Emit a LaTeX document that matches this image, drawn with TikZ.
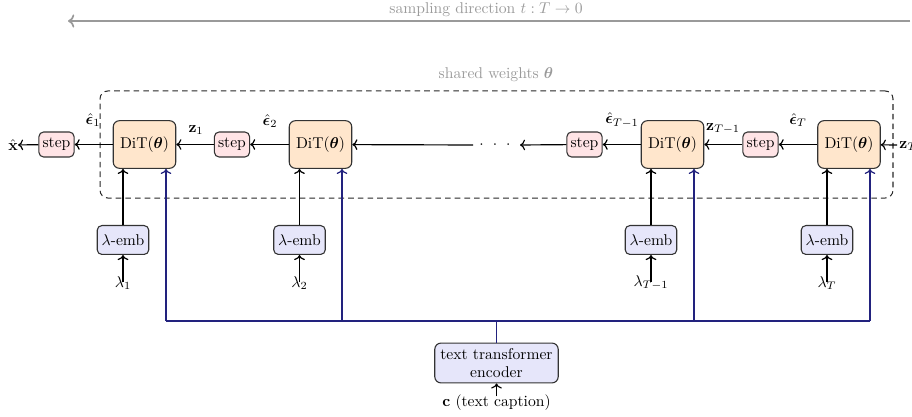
\documentclass[tikz,border=0pt]{standalone}
\usepackage{amsmath,bm}
\usetikzlibrary{arrows.meta}
\definecolor{ditfill}{HTML}{FFE6CC}
\definecolor{stepfill}{HTML}{FFE4E6}
\definecolor{embfill}{HTML}{E6E6FA}
\definecolor{navyline}{HTML}{22227E}
\definecolor{lightgray}{HTML}{9A9A9A}
\begin{document}
\begin{tikzpicture}[x=0.64pt,y=-0.64pt,
  base/.style={draw=black!80,line width=0.7pt,rounded corners=4pt,inner sep=2pt,align=center},
  ditbox/.style={base,fill=ditfill,minimum width=40pt,minimum height=30.5pt},
  stepbox/.style={base,fill=stepfill,minimum width=22.5pt,minimum height=16pt,rounded corners=3pt},
  embbox/.style={base,fill=embfill,minimum width=33pt,minimum height=18.5pt,rounded corners=3pt},
  encbox/.style={base,fill=embfill,minimum width=79pt,minimum height=25.5pt},
  arr/.style={->,line width=0.75pt,black},
  bluearr/.style={->,line width=0.75pt,navyline},
  lbl/.style={inner sep=0pt}]
\useasboundingbox (0,0) rectangle (912,417);
% top direction arrow
\node[lbl,text=lightgray] (dirlbl) at (486,9.5) {sampling direction $t:T\to 0$};
\coordinate (dirR) at (910,21);
\coordinate (dirL) at (68,21);
\draw[->,lightgray,line width=1.1pt] (dirR) -- (dirL);
% shared weights box
\node[draw=black!85,dash pattern=on 3.6pt off 2.6pt,line width=0.65pt,rounded corners=5pt,minimum width=507.5pt,minimum height=68.5pt] (shared) at (496.5,144.5) {};
\node[lbl,text=lightgray] (sharedlbl) at (496,75) {shared weights $\bm{\theta}$};
% main row
\node[ditbox] (dit1) at (144.5,144.5) {DiT($\bm{\theta}$)};
\node[ditbox] (dit2) at (320.5,144.5) {DiT($\bm{\theta}$)};
\node[ditbox] (dit3) at (672.5,144.5) {DiT($\bm{\theta}$)};
\node[ditbox] (dit4) at (849,144.5) {DiT($\bm{\theta}$)};
\node[stepbox] (step1) at (56.5,144.5) {step};
\node[stepbox] (step2) at (232,144.5) {step};
\node[stepbox] (step3) at (584.5,144.5) {step};
\node[stepbox] (step4) at (760.5,144.5) {step};
\node[lbl] (xhat) at (13,145) {$\hat{\mathbf{x}}$};
\node[lbl] (dots) at (495,145) {$\cdot\hspace{3.6pt}\cdot\hspace{3.6pt}\cdot$};
\coordinate (dl) at (473,145);
\coordinate (dr) at (520,145);
\coordinate (zin) at (897,145);
\node[lbl,anchor=west] (zT) at (899,146) {$\mathbf{z}_T$};
\draw[arr] (zin) -- (dit4);
\draw[arr] (dit4) -- (step4);
\draw[arr] (step4) -- (dit3);
\draw[arr] (dit3) -- (step3);
\draw[arr] (step3) -- (dr);
\draw[arr] (dl) -- (dit2);
\draw[arr] (dit2) -- (step2);
\draw[arr] (step2) -- (dit1);
\draw[arr] (dit1) -- (step1);
\draw[arr] (step1) -- (xhat);
% arrow labels
\node[lbl] (e1) at (93,120) {$\hat{\bm{\epsilon}}_1$};
\node[lbl] (z1) at (196,130) {$\mathbf{z}_1$};
\node[lbl] (e2) at (270,121) {$\hat{\bm{\epsilon}}_2$};
\node[lbl] (e3) at (622,120) {$\hat{\bm{\epsilon}}_{T-1}$};
\node[lbl] (z3) at (723,129) {$\mathbf{z}_{T-1}$};
\node[lbl] (e4) at (798,120) {$\hat{\bm{\epsilon}}_T$};
% lambda embeddings
\node[embbox] (emb1) at (123,240) {$\lambda$-emb};
\node[embbox] (emb2) at (299.5,240) {$\lambda$-emb};
\node[embbox] (emb3) at (651,240) {$\lambda$-emb};
\node[embbox] (emb4) at (827,240) {$\lambda$-emb};
\node[lbl] (lam1) at (123,283) {$\lambda_1$};
\node[lbl] (lam2) at (299.5,283) {$\lambda_2$};
\node[lbl] (lam3) at (651,283) {$\lambda_{T-1}$};
\node[lbl] (lam4) at (827,283) {$\lambda_T$};
\foreach \i in {1,2,3,4}{
  \draw[arr] (emb\i) -- (emb\i |- dit\i.south);
  \draw[arr] ([yshift=-4pt]lam\i.north) -- (emb\i);
}
% text encoder
\node[encbox] (enc) at (496.5,363) {text transformer\\[-1pt]encoder};
\node[lbl] (cap) at (496.5,403) {$\mathbf{c}$ (text caption)};
\draw[arr] ([yshift=-1pt]cap.north) -- (enc);
\coordinate (b1) at (166,321);
\coordinate (b2) at (342,321);
\coordinate (b3) at (694,321);
\coordinate (b4) at (870,321);
\draw[navyline,line width=0.75pt] (b1) -- (b4);
\draw[navyline,line width=0.75pt] (enc) -- (enc |- b1);
\foreach \i in {1,2,3,4}{
  \draw[bluearr] (b\i) -- (b\i |- dit\i.south);
}
\end{tikzpicture}
\end{document}
